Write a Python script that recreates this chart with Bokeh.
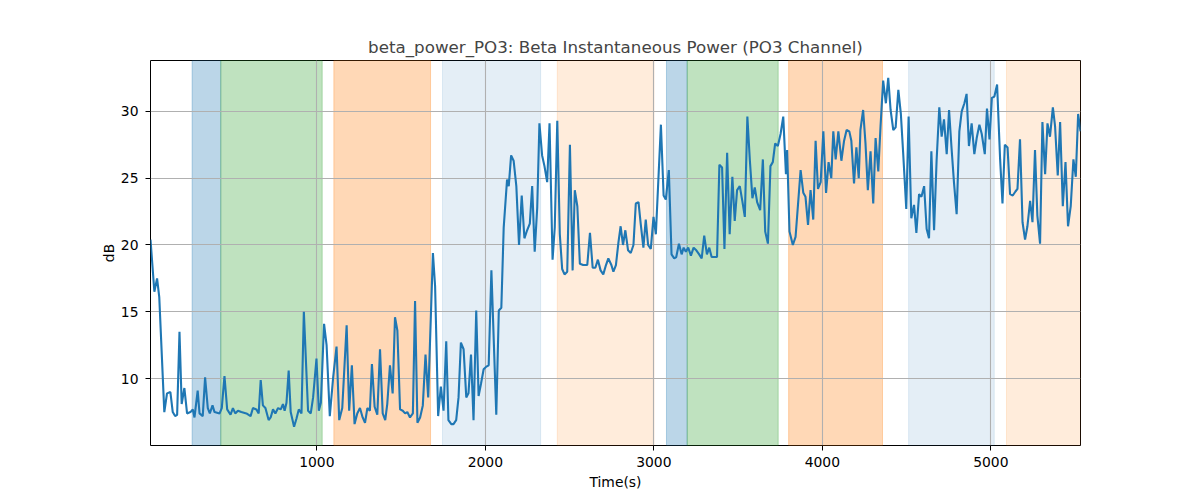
from bokeh.plotting import figure
from bokeh.models import BoxAnnotation, FixedTicker, Range1d
from bokeh.embed import file_html
from bokeh.resources import INLINE

# beta power trace, PO3 channel
times = [
    13, 36, 52, 65, 95, 111, 131, 145, 159, 171, 185, 198, 214, 230, 250, 264,
    274, 293, 304, 323, 337, 353, 365, 381, 393, 423, 436, 452, 468, 488, 502,
    516, 532, 552, 582, 607, 621, 641, 655, 667, 680, 695, 714, 726, 740, 754,
    770, 786, 799, 809, 820, 833, 845, 865, 879, 893, 909, 923, 948, 964, 978,
    998, 1012, 1024, 1043, 1058, 1077, 1097, 1117, 1133, 1151, 1177, 1192,
    1208, 1224, 1240, 1256, 1272, 1286, 1300, 1315, 1327, 1343, 1359, 1375,
    1391, 1406, 1418, 1434, 1450, 1464, 1478, 1494, 1510, 1524, 1537, 1553,
    1570, 1583, 1597, 1613, 1629, 1645, 1661, 1689, 1702, 1720, 1736, 1752,
    1768, 1781, 1798, 1811, 1827, 1841, 1855, 1871, 1887, 1900, 1915, 1930,
    1946, 1960, 1974, 1990, 2006, 2020, 2036, 2065, 2080, 2095, 2109, 2129,
    2139, 2153, 2168, 2184, 2200, 2216, 2232, 2248, 2264, 2278, 2293, 2308,
    2321, 2337, 2351, 2367, 2381, 2399, 2412, 2427, 2442, 2456, 2470, 2486,
    2502, 2518, 2531, 2546, 2561, 2581, 2605, 2621, 2637, 2653, 2668, 2684,
    2700, 2716, 2730, 2748, 2760, 2775, 2790, 2803, 2817, 2831, 2847, 2863,
    2879, 2893, 2909, 2922, 2938, 2952, 2966, 2982, 2998, 3012, 3042, 3058,
    3071, 3089, 3105, 3121, 3133, 3149, 3165, 3177, 3190, 3204, 3220, 3236,
    3252, 3269, 3284, 3299, 3315, 3329, 3343, 3375, 3389, 3405, 3419, 3435,
    3450, 3466, 3480, 3494, 3510, 3525, 3540, 3555, 3570, 3585, 3599, 3613,
    3631, 3647, 3661, 3677, 3692, 3706, 3720, 3736, 3752, 3768, 3784, 3791,
    3805, 3825, 3841, 3871, 3887, 3900, 3915, 3930, 3946, 3960, 3974, 3990,
    4006, 4022, 4037, 4053, 4065, 4079, 4095, 4113, 4129, 4144, 4160, 4172,
    4188, 4202, 4216, 4226, 4242, 4256, 4270, 4286, 4302, 4316, 4332, 4345,
    4361, 4377, 4391, 4405, 4421, 4435, 4451, 4466, 4480, 4498, 4512, 4528,
    4544, 4558, 4574, 4588, 4604, 4619, 4633, 4647, 4663, 4678, 4694, 4708,
    4722, 4738, 4752, 4767, 4781, 4797, 4813, 4827, 4843, 4856, 4870, 4886,
    4902, 4916, 4932, 4946, 4964, 4977, 4992, 5006, 5021, 5037, 5055, 5069,
    5083, 5099, 5114, 5130, 5146, 5158, 5173, 5188, 5203, 5217, 5233, 5247,
    5262, 5276, 5292, 5306, 5322, 5336, 5351, 5368, 5381, 5397, 5411, 5427,
    5443, 5458, 5474, 5490, 5504, 5518, 5532,
]
power_db = [
    20.4, 16.5, 17.5, 16.1, 7.5, 8.9, 9.0, 7.5, 7.2, 7.3, 13.5, 8.1, 9.3, 7.4,
    7.5, 7.7, 7.1, 9.1, 7.4, 7.2, 10.1, 7.8, 7.4, 8.0, 7.5, 7.4, 7.8, 10.2,
    7.7, 7.3, 7.8, 7.4, 7.6, 7.5, 7.4, 7.2, 7.8, 7.7, 7.4, 9.9, 8.0, 7.8, 6.9,
    7.1, 7.7, 7.4, 7.8, 7.7, 8.1, 7.6, 8.2, 10.6, 7.5, 6.4, 7.0, 7.7, 7.4,
    15.0, 7.6, 7.4, 8.6, 11.5, 7.6, 8.2, 14.1, 12.5, 7.2, 10.1, 12.4, 6.9,
    7.8, 14.0, 7.6, 11.0, 6.6, 7.4, 7.8, 7.1, 6.7, 7.8, 7.6, 11.1, 7.9, 7.3,
    12.2, 7.4, 6.9, 8.1, 11.0, 8.9, 14.6, 13.6, 7.7, 7.6, 7.4, 7.5, 7.1, 7.4,
    15.8, 6.7, 7.1, 8.0, 11.8, 8.6, 19.4, 16.9, 7.2, 9.4, 7.6, 12.8, 6.9, 6.6,
    6.6, 6.9, 8.6, 12.7, 12.2, 8.6, 8.9, 11.8, 6.9, 15.1, 8.7, 9.6, 10.7,
    10.9, 11.0, 18.1, 7.3, 15.1, 15.3, 21.3, 24.9, 24.4, 26.7, 26.3, 24.4,
    20.0, 23.7, 20.5, 21.1, 21.6, 24.4, 19.5, 22.8, 29.1, 26.7, 25.9, 24.7,
    29.1, 18.9, 21.3, 29.3, 20.8, 18.2, 17.8, 18.0, 27.5, 18.1, 24.1, 22.9,
    18.6, 18.5, 18.5, 20.9, 18.3, 18.3, 18.9, 18.1, 17.8, 18.5, 19.0, 18.5,
    18.0, 18.5, 20.2, 21.4, 20.0, 21.1, 19.6, 19.4, 20.0, 23.1, 23.2, 21.6,
    19.8, 21.9, 20.0, 19.7, 22.1, 20.8, 29.0, 23.7, 23.4, 25.6, 19.3, 19.0,
    19.1, 20.1, 19.3, 19.8, 19.5, 19.8, 19.2, 19.8, 19.6, 19.3, 19.0, 20.7,
    19.3, 19.8, 19.1, 19.1, 26.0, 25.8, 19.7, 26.9, 20.8, 25.1, 21.8, 24.1,
    24.4, 23.3, 22.1, 29.6, 26.3, 23.5, 24.3, 23.2, 22.6, 26.4, 21.0, 20.1,
    25.9, 26.2, 27.6, 27.4, 28.3, 29.6, 25.3, 27.1, 21.0, 20.0, 20.6, 25.6,
    23.9, 23.6, 21.5, 24.1, 21.9, 27.8, 24.2, 24.7, 28.5, 23.9, 26.2, 25.0,
    28.5, 26.4, 28.5, 26.3, 27.8, 28.6, 28.5, 27.8, 24.6, 27.3, 25.0, 28.6,
    30.1, 27.6, 24.1, 27.0, 23.1, 28.0, 25.5, 28.8, 32.3, 30.6, 32.5, 30.1,
    28.6, 28.8, 31.6, 29.8, 26.8, 22.7, 29.6, 22.0, 23.0, 20.9, 23.8, 23.6,
    24.4, 21.2, 20.5, 27.0, 21.1, 26.3, 30.3, 28.1, 29.4, 26.8, 30.1, 27.2,
    24.7, 22.3, 28.5, 30.0, 30.6, 31.3, 27.4, 29.1, 26.8, 28.0, 29.0, 28.3,
    26.8, 30.2, 27.9, 31.0, 31.1, 32.0, 26.4, 23.1, 27.5, 27.3, 23.8, 23.7,
    24.0, 24.2, 27.9, 21.7, 20.4, 21.4, 23.3, 21.7, 27.1, 22.2, 20.1, 29.2,
    25.3, 29.1, 28.1, 30.3, 28.9, 25.2, 29.2, 22.9, 26.2, 21.4, 22.9, 26.4,
    25.1, 29.8, 28.5,
]

# shaded task periods
span_start = [260, 430, 1101, 1746, 2427, 3075, 3198, 3800, 4512, 5093]
span_end = [430, 1032, 1675, 2328, 3001, 3198, 3738, 4357, 5020, 5532]
span_kind = ["blue", "green", "orange", "pale_blue", "pale_orange",
             "blue", "green", "orange", "pale_blue", "pale_orange"]

span_style = {
    "blue": ("#1f77b4", 0.3),
    "green": ("#2ca02c", 0.3),
    "orange": ("#ff7f0e", 0.3),
    "pale_blue": ("#1f77b4", 0.12),
    "pale_orange": ("#ff7f0e", 0.15),
}

FONT = "DejaVu Sans"

p = figure(
    width=1200,
    height=500,
    frame_width=930,
    frame_height=385,
    min_border_left=150,
    min_border_right=120,
    min_border_top=60,
    min_border_bottom=55,
    x_range=Range1d(13, 5532),
    y_range=Range1d(5.0, 33.8),
    title="beta_power_PO3: Beta Instantaneous Power (PO3 Channel)",
    output_backend="svg",
    toolbar_location=None,
)
p.background_fill_color = "white"
p.border_fill_color = "white"
p.outline_line_color = "black"
p.outline_line_width = 1

p.title.align = "center"
p.title.text_font = FONT
p.title.text_font_size = "16.7px"
p.title.text_font_style = "normal"
p.title.standoff = 7

for start, end, kind in zip(span_start, span_end, span_kind):
    color, alpha = span_style[kind]
    p.add_layout(BoxAnnotation(
        left=start, right=end,
        fill_color=color, fill_alpha=alpha,
        line_color=color, line_alpha=alpha, line_width=1,
        level="image",
    ))

p.line(times, power_db, line_color="#1f77b4", line_width=2.1)

p.xaxis.ticker = FixedTicker(ticks=[1000, 2000, 3000, 4000, 5000])
p.yaxis.ticker = FixedTicker(ticks=[10, 15, 20, 25, 30])
p.xaxis.axis_label = "Time(s)"
p.yaxis.axis_label = "dB"

for ax in (p.xaxis, p.yaxis):
    ax.axis_line_color = None
    ax.major_tick_line_color = "black"
    ax.major_tick_out = 5
    ax.major_tick_in = 0
    ax.minor_tick_line_color = None
    ax.major_label_text_font = FONT
    ax.major_label_text_font_size = "13.9px"
    ax.major_label_text_color = "black"
    ax.axis_label_text_font = FONT
    ax.axis_label_text_font_size = "13.9px"
    ax.axis_label_text_font_style = "normal"
    ax.axis_label_text_color = "black"
p.xaxis.major_label_standoff = 6
p.xaxis.axis_label_standoff = 4
p.yaxis.major_label_standoff = 7
p.yaxis.axis_label_standoff = 1

p.grid.grid_line_color = "#b0b0b0"
p.grid.grid_line_width = 1.1

open("out.html", "w").write(file_html(p, INLINE))
